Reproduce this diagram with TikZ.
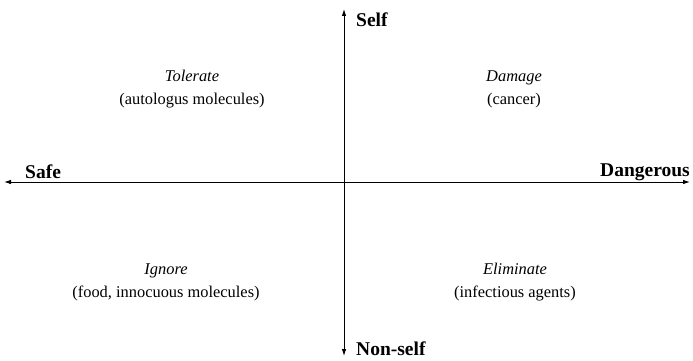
\documentclass[tikz,border=0pt]{standalone}
\usepackage{fontspec}
\setmainfont{Liberation Serif}
\usetikzlibrary{arrows.meta}
\begin{document}
\begin{tikzpicture}[x=1pt,y=-1pt,
  axis/.style={line width=0.9pt,-{Latex[length=7pt,width=4.5pt]}},
  lbl/.style={font=\fontsize{19.5}{22}\selectfont\bfseries,inner sep=0pt},
  quad/.style={font=\fontsize{16.4}{23}\selectfont,align=center,inner sep=0pt}]
\useasboundingbox (0,0) rectangle (693,361);
\coordinate (c) at (344,182);
\coordinate (l) at (4,182);
\coordinate (r) at (690,182);
\coordinate (t) at (344,9);
\coordinate (b) at (344,356);
\draw[axis] (c) -- (l);
\draw[axis] (c) -- (r);
\draw[axis] (c) -- (t);
\draw[axis] (c) -- (b);
\node[lbl,anchor=west] (self) at (356,20) {Self};
\node[lbl,anchor=west] (nonself) at (356,349) {Non-self};
\node[lbl,anchor=west] (safe) at (25,172) {Safe};
\node[lbl,anchor=east] (dang) at (690,172) {Dangerous};
\node[quad] (tol) at (192,89) {\textit{Tolerate}\\(autologus molecules)};
\node[quad] (dam) at (514,89) {\textit{Damage}\\(cancer)};
\node[quad] (ign) at (166,282) {\textit{Ignore}\\(food, innocuous molecules)};
\node[quad] (eli) at (515,282) {\textit{Eliminate}\\(infectious agents)};
\end{tikzpicture}
\end{document}
